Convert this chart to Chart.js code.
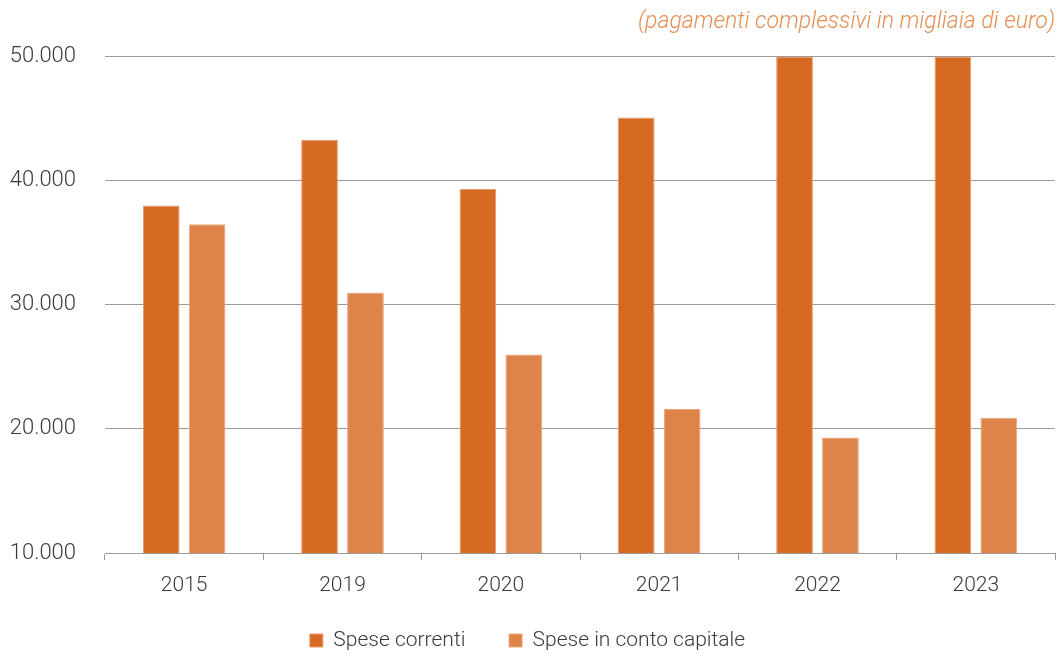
<!DOCTYPE html>
<html lang="it">
<head>
<meta charset="utf-8">
<script src="https://cdn.jsdelivr.net/npm/chart.js@4/dist/chart.umd.min.js"></script>
<style>
  html, body { margin: 0; padding: 0; background: #fff; }
  #wrap { width: 1059px; height: 654px; }
</style>
</head>
<body>
<div id="wrap"><canvas id="grafico"></canvas></div>
<script>
// Pagamenti complessivi (migliaia di euro) per tipo di spesa
var anni = ['2015', '2019', '2020', '2021', '2022', '2023'];
var speseCorrenti = [38000, 43300, 39350, 45100, 50000, 50000];
var speseCapitale = [36500, 31000, 26000, 21600, 19300, 20900];
var tickY = [10000, 20000, 30000, 40000, 50000];

var scuro = '#d66a22';
var chiaro = '#de844a';
var testo = '#3a3a3a';
var griglia = '#9a9a9a';
var font = "Roboto, 'Liberation Sans', sans-serif";

function fmtMigliaia(v) {
  return v.toLocaleString('it-IT', { useGrouping: true }).replace(/,/g, '.');
}

new Chart(document.getElementById('grafico').getContext('2d'), {
  type: 'bar',
  data: {
    labels: anni,
    datasets: [
      {
        label: 'Spese correnti', data: speseCorrenti, backgroundColor: scuro,
        borderColor: '#e89a66', borderWidth: 1,
        categoryPercentage: 0.58, barPercentage: 0.8,
      },
      {
        label: 'Spese in conto capitale', data: speseCapitale, backgroundColor: chiaro,
        borderColor: '#eaa67a', borderWidth: 1,
        categoryPercentage: 0.58, barPercentage: 0.8,
      },
    ],
  },
  options: {
    responsive: true,
    maintainAspectRatio: false,
    animation: false,
    layout: { padding: { left: 0, right: 4, top: 0, bottom: -7 } },
    plugins: {
      title: {
        display: true,
        text: '(pagamenti complessivi in migliaia di euro)',
        align: 'end',
        color: '#e58e52',
        font: { family: font, size: 23, style: 'italic', weight: 300, lineHeight: 1.2 },
        padding: { top: 8, bottom: 21 },
      },
      legend: {
        position: 'bottom',
        labels: {
          color: testo,
          font: { family: font, size: 21, weight: 300 },
          boxWidth: 13, boxHeight: 13, padding: 3,
          // spazio più largo fra le due voci
          generateLabels: function (chart) {
            var voci = Chart.defaults.plugins.legend.labels.generateLabels(chart);
            voci[0].text = voci[0].text + '\u2002\u2002\u2002\u2009\u2009';
            return voci;
          },
        },
      },
      tooltip: { enabled: false },
    },
    scales: {
      x: {
        grid: { offset: true, drawOnChartArea: false, drawTicks: true, tickLength: 7, color: griglia },
        border: { display: true, color: griglia, width: 1 },
        ticks: { color: testo, font: { family: font, size: 21, weight: 300 }, padding: 13 },
        afterFit: function (s) { s.height = 74; },
      },
      y: {
        min: 10000, max: 50000,
        grid: { drawTicks: false, color: griglia, lineWidth: 1 },
        border: { display: false },
        afterBuildTicks: function (s) { s.ticks = tickY.map(function (v) { return { value: v }; }); },
        ticks: {
          color: testo, padding: 29,
          font: { family: font, size: 22, weight: 300 },
          callback: function (v) { return fmtMigliaia(v); },
        },
        afterFit: function (s) { s.width = 105; },
      },
    },
  },
});
</script>
</body>
</html>
